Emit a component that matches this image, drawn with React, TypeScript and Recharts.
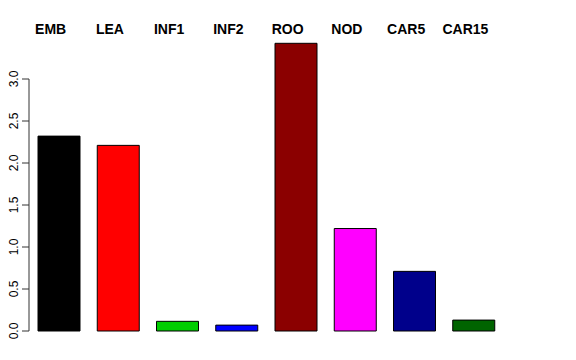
import { BarChart, Bar, XAxis, YAxis, Cell, ReferenceLine } from "recharts";

const categories = ["EMB", "LEA", "INF1", "INF2", "ROO", "NOD", "CAR5", "CAR15"];
const values = [2.32, 2.21, 0.115, 0.07, 3.425, 1.22, 0.71, 0.13];
const colors = ["#000000", "#FF0000", "#00CD00", "#0000FF", "#8B0000", "#FF00FF", "#00008B", "#006400"];
const yTicks = [0, 0.5, 1, 1.5, 2, 2.5, 3];

const data = categories.map((name, i) => ({ name, value: values[i] }));

const FONT = "'Liberation Sans', Arial, Helvetica, sans-serif";

function TopTick({ x, y, payload }: any) {
  // R draws these names bold, slightly left of each bar centre
  return (
    <text x={x - 8} y={y + 5} textAnchor="middle" fontFamily={FONT} fontSize={14} fontWeight="bold" fill="#000">
      {payload.value}
    </text>
  );
}

function LeftTick({ x, y, payload }: any) {
  const bx = x - 11.5;
  return (
    <g>
      <line x1={x - 7} x2={x} y1={y} y2={y} stroke="#333" strokeWidth={1} />
      <text
        x={bx}
        y={y}
        transform={`rotate(-90, ${bx}, ${y})`}
        textAnchor="middle"
        fontFamily={FONT}
        fontSize={12}
        fill="#000"
      >
        {payload.value.toFixed(1)}
      </text>
    </g>
  );
}

export default function App() {
  return (
    <div style={{ position: "absolute", left: 0, top: 0, width: 576, height: 360, background: "#fff" }}>
      <BarChart
        width={576}
        height={360}
        data={data}
        margin={{ top: 7, right: 73, bottom: 29, left: 0 }}
        barSize={42}
      >
        <XAxis
          dataKey="name"
          orientation="top"
          height={30}
          axisLine={false}
          tickLine={false}
          interval={0}
          tick={<TopTick />}
        />
        <YAxis
          type="number"
          domain={[0, 3.5]}
          ticks={yTicks}
          width={29}
          axisLine={false}
          tickLine={false}
          tickSize={0}
          tickMargin={0}
          tick={<LeftTick />}
        />
        <ReferenceLine
          segment={[{ x: "EMB", y: 0 }, { x: "EMB", y: 3 }]}
          position="start"
          stroke="#333"
          strokeWidth={1}
          ifOverflow="visible"
        />
        <Bar dataKey="value" stroke="#000" strokeWidth={1} isAnimationActive={false}>
          {data.map((d, i) => (
            <Cell key={d.name} fill={colors[i]} />
          ))}
        </Bar>
      </BarChart>
    </div>
  );
}
